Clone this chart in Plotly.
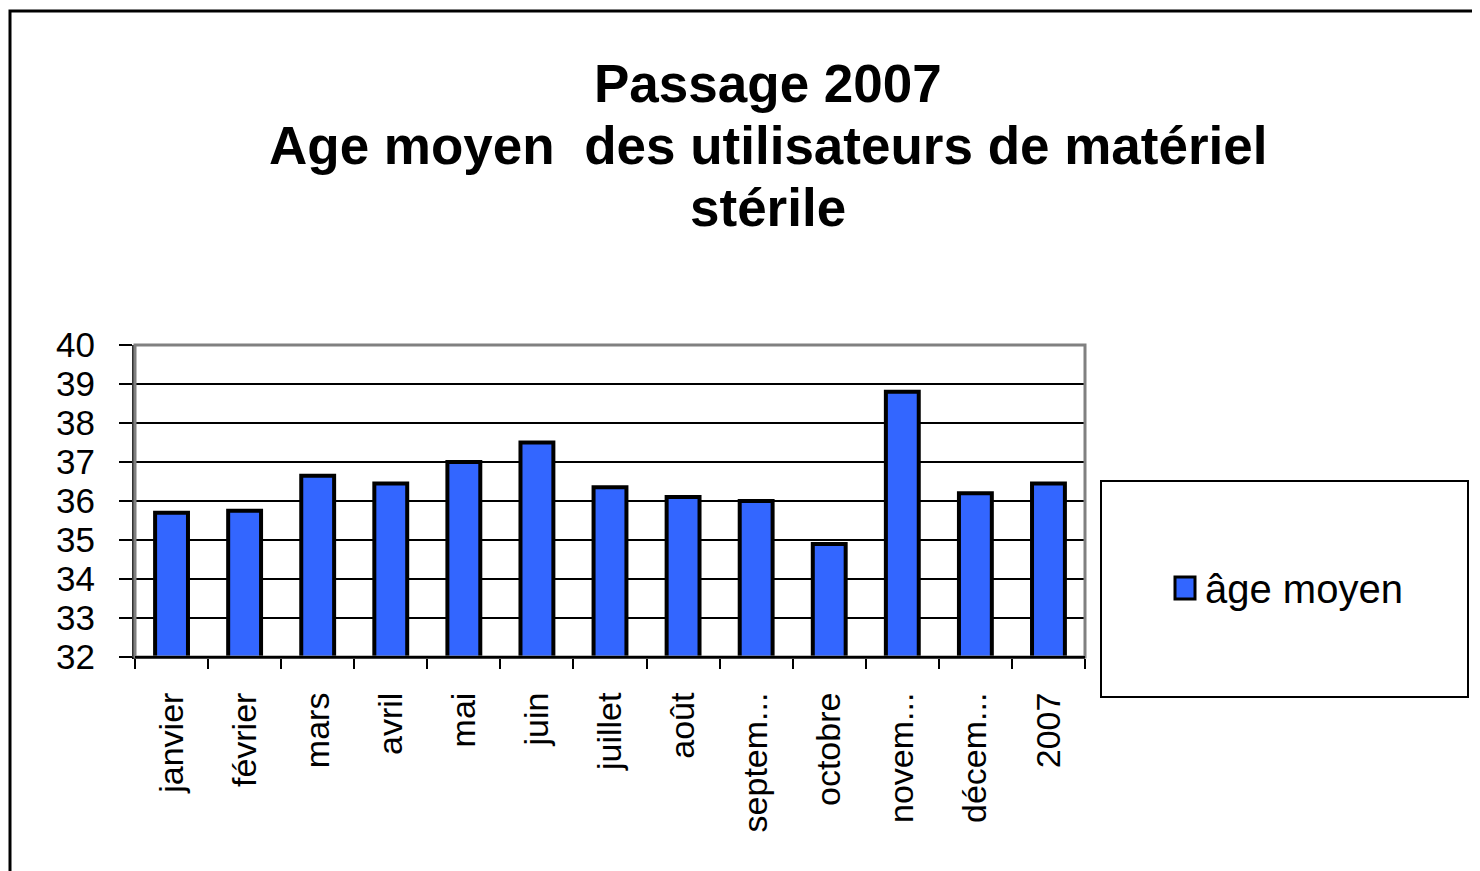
import plotly.graph_objects as go

# données
mois = ['janvier', 'février', 'mars', 'avril', 'mai', 'juin', 'juillet',
        'août', 'septem...', 'octobre', 'novem...', 'décem...', '2007']
age_moyen = [35.7, 35.75, 36.65, 36.45, 37.0, 37.5, 36.35,
             36.1, 36.0, 34.9, 38.8, 36.2, 36.45]
nom_serie = 'âge moyen'
lignes_titre = ['Passage 2007', 'Age moyen  des utilisateurs de matériel', 'stérile']

W, H = 1480, 871
OFF = 8                                  # marge du body de la page
L, R, T, B = 135 - OFF, 1085 - OFF, 345 - OFF, 657 - OFF


def px(x):
    return (x - OFF - L) / (R - L)


def py(y):
    return (B - (y - OFF)) / (B - T)


BLEU = '#3366FF'
police = 'Liberation Sans, Arial, sans-serif'

fig = go.Figure()
fig.add_trace(go.Bar(x=mois, y=age_moyen, name=nom_serie,
                     marker=dict(color=BLEU, line=dict(color='black', width=4)),
                     showlegend=False))

fig.update_layout(
    width=W, height=H,
    margin=dict(l=L, r=W - R, t=T, b=H - B),
    paper_bgcolor='white', plot_bgcolor='white',
    bargap=0.55,
    font=dict(family=police, color='black'),
)

# titre sur trois lignes
for ligne, yc in zip(lignes_titre, [83, 145, 207]):
    fig.add_annotation(text='<b>' + ligne + '</b>', xref='paper', yref='paper',
                       x=px(768), y=py(yc), xanchor='center', yanchor='middle',
                       showarrow=False,
                       font=dict(size=53, family=police, color='black'))

fig.update_xaxes(type='category', tickangle=-90, tickson='boundaries',
                 ticks='outside', ticklen=10, tickwidth=2, tickcolor='black',
                 showline=True, linecolor='black', linewidth=2,
                 showgrid=False, ticklabelstandoff=20,
                 tickfont=dict(size=34, family=police, color='black'))
fig.update_yaxes(range=[32, 40], dtick=1, ticks='outside', ticklen=13,
                 tickwidth=2, tickcolor='black',
                 showline=True, linecolor='#333333', linewidth=3,
                 showgrid=True, gridcolor='black', gridwidth=1.5,
                 ticklabelstandoff=17, zeroline=False,
                 tickfont=dict(size=35, family=police, color='black'))

# bord gris de la zone de tracé
fig.add_shape(type='rect', xref='paper', yref='paper', x0=0, x1=1, y0=0, y1=1,
              line=dict(color='#808080', width=3), layer='above')
fig.add_shape(type='line', xref='paper', yref='paper', x0=0, x1=1, y0=0, y1=0,
              line=dict(color='black', width=2), layer='above')

# cadre extérieur
fig.add_shape(type='rect', xref='paper', yref='paper',
              x0=px(10), x1=px(W + 30), y0=py(11), y1=py(H + 30),
              line=dict(color='black', width=3))

# légende
fig.add_shape(type='rect', xref='paper', yref='paper',
              x0=px(1101), x1=px(1468), y0=py(481), y1=py(697),
              line=dict(color='black', width=2), fillcolor='white')
fig.add_shape(type='rect', xref='paper', yref='paper',
              x0=px(1175), x1=px(1195), y0=py(577), y1=py(599),
              line=dict(color='black', width=3), fillcolor=BLEU)
fig.add_annotation(text=nom_serie, xref='paper', yref='paper',
                   x=px(1203), y=py(589), xanchor='left', yanchor='middle',
                   showarrow=False, font=dict(size=40, family=police, color='black'))

fig.write_html('out.html')
